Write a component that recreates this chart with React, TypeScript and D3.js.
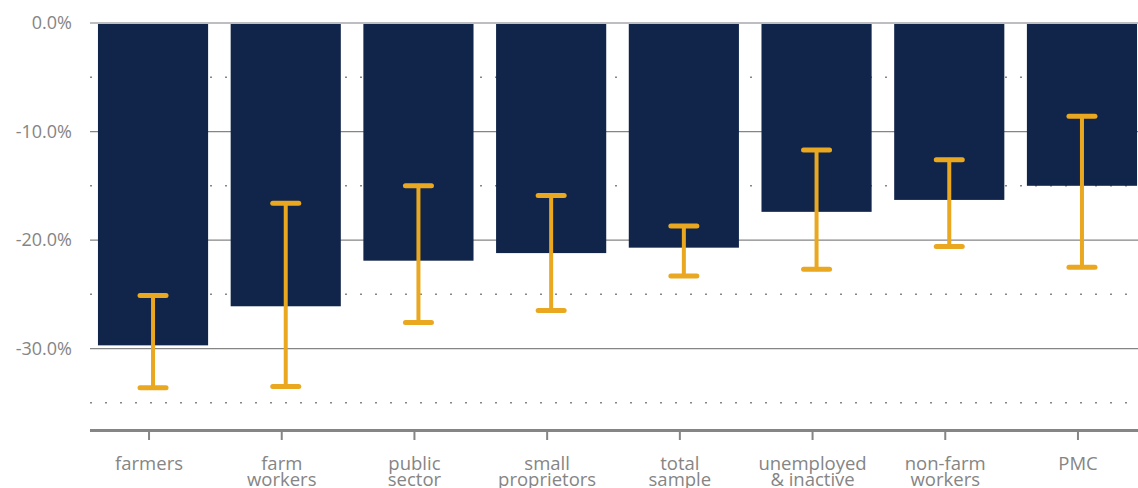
import React from "react";
import * as d3 from "d3";

const categories = [
  "farmers",
  "farm workers",
  "public sector",
  "small proprietors",
  "total sample",
  "unemployed & inactive",
  "non-farm workers",
  "PMC",
];
const labelLines = [
  ["farmers"],
  ["farm", "workers"],
  ["public", "sector"],
  ["small", "proprietors"],
  ["total", "sample"],
  ["unemployed", "& inactive"],
  ["non-farm", "workers"],
  ["PMC"],
];
const values = [-29.7, -26.1, -21.9, -21.2, -20.7, -17.4, -16.3, -15.0];
const errLow = [-33.6, -33.5, -27.6, -26.5, -23.3, -22.7, -20.6, -22.5];
const errHigh = [-25.1, -16.6, -15.0, -15.9, -18.7, -11.7, -12.6, -8.6];
const majorTicks = [0, -10, -20, -30];
const minorTicks = [-5, -15, -25, -35];

const W = 1138;
const H = 488;
const NAVY = "#11254a";
const ORANGE = "#e9a820";
const GRAY = "#858585";
const FONT = "'Open Sans', sans-serif";

export default function App() {
  const x = d3
    .scaleBand<string>()
    .domain(categories)
    .range([90, 1145])
    .paddingInner(0.17)
    .paddingOuter(0.06);
  const y = d3.scaleLinear().domain([-37.5, 0]).range([430, 23]);
  const bw = x.bandwidth();
  const fmt = (v: number) => `${v.toFixed(1)}%`;
  const gridX0 = 90;
  const gridX1 = W;

  return (
    <div style={{ position: "absolute", left: 0, top: 0 }}>
      <svg width={W} height={H} style={{ display: "block", fontFamily: FONT }}>
        {minorTicks.map((t) => (
          <line
            key={"mn" + t}
            x1={gridX0}
            x2={gridX1}
            y1={y(t)}
            y2={y(t)}
            stroke={GRAY}
            strokeWidth={1.5}
            strokeDasharray="2,13"
          />
        ))}
        {majorTicks.map((t) => (
          <line
            key={"mj" + t}
            x1={gridX0}
            x2={gridX1}
            y1={y(t)}
            y2={y(t)}
            stroke={t === 0 ? "#bdbdc2" : GRAY}
            strokeWidth={t === 0 ? 2 : 1.2}
          />
        ))}
        {majorTicks.map((t) => (
          <text
            key={"yl" + t}
            x={72}
            y={y(t)}
            dy="0.35em"
            textAnchor="end"
            fill={GRAY}
            fontSize={18}
          >
            {fmt(t)}
          </text>
        ))}
        {categories.map((c, i) => (
          <rect
            key={"b" + c}
            x={x(c)}
            y={y(0) + 1}
            width={bw}
            height={y(values[i]) - y(0) - 1}
            fill={NAVY}
          />
        ))}
        {categories.map((c, i) => {
          const cx = (x(c) as number) + bw / 2;
          return (
            <g key={"e" + c} stroke={ORANGE} strokeLinecap="round">
              <line x1={cx} x2={cx} y1={y(errHigh[i])} y2={y(errLow[i])} strokeWidth={4} />
              <line x1={cx - 13} x2={cx + 13} y1={y(errHigh[i])} y2={y(errHigh[i])} strokeWidth={5} />
              <line x1={cx - 13} x2={cx + 13} y1={y(errLow[i])} y2={y(errLow[i])} strokeWidth={5} />
            </g>
          );
        })}
        <line x1={gridX0} x2={gridX1} y1={430.5} y2={430.5} stroke={GRAY} strokeWidth={3} />
        {categories.map((c, i) => {
          const tx = (x(c) as number) + bw / 2 - 4;
          return (
            <g key={"xt" + c}>
              <line x1={tx} x2={tx} y1={431} y2={440} stroke={GRAY} strokeWidth={2} />
              <text textAnchor="middle" fill={GRAY} fontSize={18.5}>
                {labelLines[i].map((l, j) => (
                  <tspan key={j} x={tx} y={470 + j * 16}>
                    {l}
                  </tspan>
                ))}
              </text>
            </g>
          );
        })}
      </svg>
    </div>
  );
}
